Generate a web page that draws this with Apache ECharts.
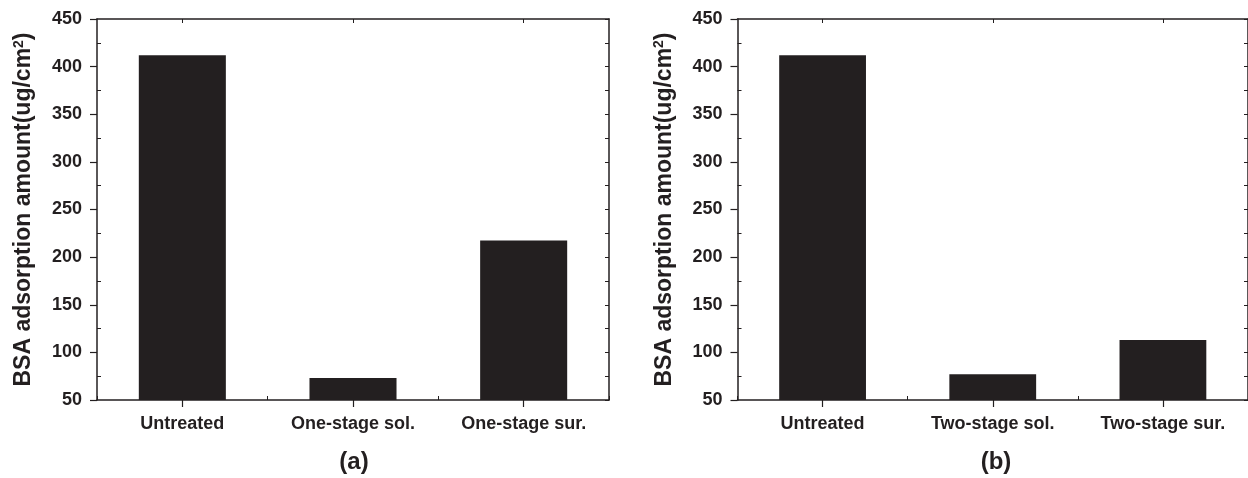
<!DOCTYPE html>
<html>
<head>
<meta charset="utf-8">
<script src="https://cdn.jsdelivr.net/npm/echarts@6/dist/echarts.min.js"></script>
<style>
html,body{margin:0;padding:0;background:#fff;}
#c{width:1248px;height:478px;}
</style>
</head>
<body>
<div id="c"></div>
<script>
const categoriesA = ['Untreated', 'One-stage sol.', 'One-stage sur.'];
const valuesA = [412, 73, 217.5];
const categoriesB = ['Untreated', 'Two-stage sol.', 'Two-stage sur.'];
const valuesB = [412, 77, 113];
const yMin = 50, yMax = 450, yStep = 50;
const yName = 'BSA adsorption amount(ug/cm{sup|2})';
const panelLabels = ['(a)', '(b)'];

const INK = '#231f20';
const FONT = '"Liberation Sans", Arial, sans-serif';

const chart = echarts.init(document.getElementById('c'), null, {renderer: 'canvas'});

const grids = [
  {left: 97, top: 19, width: 512, height: 381, containLabel: false},
  {left: 737.5, top: 19, width: 516, height: 381, containLabel: false}
];

const xAxes = [], yAxes = [];
[categoriesA, categoriesB].forEach((cats, g) => {
  xAxes.push({
    type: 'category', gridIndex: g, position: 'bottom', data: cats,
    axisLine: {show: true, lineStyle: {color: INK, width: 1.5}},
    axisTick: {show: true, alignWithLabel: true, length: 7, lineStyle: {color: INK, width: 1.2}},
    axisLabel: {color: INK, fontFamily: FONT, fontWeight: 'bold', fontSize: 18, margin: 15},
    splitLine: {show: false}
  });
  xAxes.push({
    type: 'category', gridIndex: g, position: 'bottom', data: cats,
    axisLine: {show: false},
    axisTick: {show: true, inside: true, length: 4, lineStyle: {color: INK, width: 1}},
    axisLabel: {show: false}, splitLine: {show: false}
  });
  xAxes.push({
    type: 'category', gridIndex: g, position: 'top', data: cats,
    axisLine: {show: true, lineStyle: {color: INK, width: 1.5}},
    axisTick: {show: true, inside: true, alignWithLabel: true, length: 4, lineStyle: {color: INK, width: 1}},
    axisLabel: {show: false}, splitLine: {show: false}
  });
  yAxes.push({
    type: 'value', gridIndex: g, position: 'left', min: yMin, max: yMax, interval: yStep,
    name: yName, nameLocation: 'middle', nameRotate: 90, nameGap: 61,
    nameTextStyle: {color: INK, fontFamily: FONT, fontWeight: 'bold', fontSize: 23,
      rich: {sup: {color: INK, fontFamily: FONT, fontWeight: 'bold', fontSize: 14, verticalAlign: 'top', padding: [0, 0, 10, 0]}}},
    axisLine: {show: true, lineStyle: {color: INK, width: 1.5}},
    axisTick: {show: true, length: 7, lineStyle: {color: INK, width: 1.2}},
    axisLabel: {color: INK, fontFamily: FONT, fontWeight: 'bold', fontSize: 18, margin: 15},
    splitLine: {show: false}
  });
  yAxes.push({
    type: 'value', gridIndex: g, position: 'left', min: yMin, max: yMax, interval: yStep,
    axisLine: {show: false},
    axisTick: {show: false, inside: true},
    minorTick: {show: true, splitNumber: 2, length: 4, lineStyle: {color: INK, width: 1}},
    axisLabel: {show: false}, splitLine: {show: false}
  });
  yAxes.push({
    type: 'value', gridIndex: g, position: 'right', min: yMin, max: yMax, interval: yStep,
    axisLine: {show: true, lineStyle: {color: INK, width: 1.5}},
    axisTick: {show: true, inside: true, length: 4, lineStyle: {color: INK, width: 1}},
    minorTick: {show: true, splitNumber: 2, length: 4, lineStyle: {color: INK, width: 1}},
    axisLabel: {show: false}, splitLine: {show: false}
  });
});

const option = {
  animation: false,
  backgroundColor: '#ffffff',
  grid: grids,
  xAxis: xAxes,
  yAxis: yAxes,
  series: [
    {type: 'bar', xAxisIndex: 0, yAxisIndex: 0, data: valuesA, barWidth: '51%',
     itemStyle: {color: INK}},
    {type: 'bar', xAxisIndex: 3, yAxisIndex: 3, data: valuesB, barWidth: '51%',
     itemStyle: {color: INK}}
  ],
  graphic: [
    {type: 'text', x: 354, y: 462, style: {text: panelLabels[0], fill: INK, font: 'bold 24px "Liberation Sans", Arial, sans-serif', textAlign: 'center', textVerticalAlign: 'middle'}},
    {type: 'text', x: 996, y: 462, style: {text: panelLabels[1], fill: INK, font: 'bold 24px "Liberation Sans", Arial, sans-serif', textAlign: 'center', textVerticalAlign: 'middle'}}
  ]
};
chart.setOption(option);
</script>
</body>
</html>
